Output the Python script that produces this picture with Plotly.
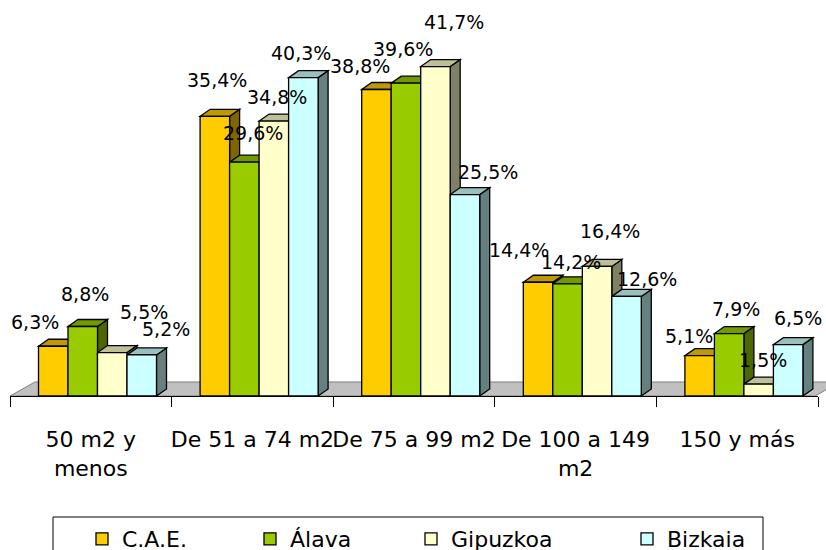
import plotly.graph_objects as go

# ---------------- data ----------------
categories = ["50 m2 y<br>menos", "De 51 a 74 m2", "De 75 a 99 m2", "De 100 a 149<br>m2", "150 y más"]
series_names = ["C.A.E.", "Álava", "Gipuzkoa", "Bizkaia"]
cae = [6.3, 35.4, 38.8, 14.4, 5.1]
alava = [8.8, 29.6, 39.6, 14.2, 7.9]
gipuzkoa = [5.5, 34.8, 41.7, 16.4, 1.5]
bizkaia = [5.2, 40.3, 25.5, 12.6, 6.5]
series_values = [cae, alava, gipuzkoa, bizkaia]

# ---------------- styles ----------------
front_colors = ["#FFCC00", "#99CC00", "#FFFFCC", "#CCFFFF"]
top_colors = ["#BF9900", "#739900", "#BFBF99", "#99BFBF"]
side_colors = ["#806600", "#4D6600", "#808066", "#668080"]

# label nudges in pixels (x right, y up) relative to front-top centre of each bar
label_dx = [[-18.5, 2, -16.5, -19.5, -10.5],
            [2.5, 8.5, -2.5, 3, 6.5],
            [32, 3.5, 19, 12.5, 4],
            [24.5, -2, 23, 20.5, 9.5]]
label_dy = [[24, 36, 23.5, 32, 20],
            [32.5, 29, 34, 22, 25],
            [40.5, 24, 44.6, 35, 24],
            [26, 25, 22.5, 17.5, 27]]
legend_widths = [123, 116, 171, None]

W, H = 826, 550
ML, MR, MT, MB = 10, 8, 0, 154
plot_w = W - ML - MR
plot_h = H - MT - MB
PX_PER_PCT = 7.9
y_max = plot_h / PX_PER_PCT
px_per_cat = plot_w / len(categories)
bar_w = 29.5 / px_per_cat
group_shift = 6.7 / px_per_cat
depth_x = 10 / px_per_cat
depth_y = 7 / PX_PER_PCT

FONT = "DejaVu Sans"

fig = go.Figure()
offsets = [group_shift - 2 * bar_w + i * bar_w for i in range(4)]

for i, (name, vals) in enumerate(zip(series_names, series_values)):
    fig.add_trace(go.Bar(
        x=categories, y=vals, name=name,
        width=bar_w, offset=offsets[i],
        marker=dict(color=front_colors[i], line=dict(color="black", width=1.3)),
        legendwidth=legend_widths[i],
        hoverinfo="skip",
    ))

shapes = []
def px2paper_x(px):
    return (px - ML) / plot_w

def px2paper_y(py):
    return 1 - (py - MT) / plot_h

floor_pts = [(10, 396), (815, 396), (840, 382), (35, 382)]
floor_path = "M " + " L ".join(f"{px2paper_x(a):.4f},{px2paper_y(b):.4f}" for a, b in floor_pts) + " Z"
shapes.append(dict(type="path", xref="paper", yref="paper", path=floor_path,
                   fillcolor="#C0C0C0", line=dict(color="#808080", width=1), layer="below"))

for c in range(len(categories)):
    for i, vals in enumerate(series_values):
        v = vals[c]
        xl = c + offsets[i]
        xr = xl + bar_w
        side = (f"M {xr},0 L {xr},{v} L {xr + depth_x},{v + depth_y} "
                f"L {xr + depth_x},{depth_y} Z")
        top = (f"M {xl},{v} L {xr},{v} L {xr + depth_x},{v + depth_y} "
               f"L {xl + depth_x},{v + depth_y} Z")
        shapes.append(dict(type="path", xref="x", yref="y", path=side,
                           fillcolor=side_colors[i], line=dict(color="black", width=1.3),
                           layer="below"))
        shapes.append(dict(type="path", xref="x", yref="y", path=top,
                           fillcolor=top_colors[i], line=dict(color="black", width=1.3),
                           layer="below"))

# legend frame
shapes.append(dict(type="rect", xref="paper", yref="paper",
                   x0=px2paper_x(53), x1=px2paper_x(763),
                   y0=px2paper_y(517), y1=px2paper_y(600),
                   line=dict(color="black", width=1), fillcolor="rgba(0,0,0,0)"))

annotations = []
for i, vals in enumerate(series_values):
    for c, v in enumerate(vals):
        annotations.append(dict(
            x=c + offsets[i] + bar_w / 2, y=v, xref="x", yref="y",
            text=f"{v:.1f}%".replace(".", ","), showarrow=False,
            xanchor="center", yanchor="middle",
            xshift=label_dx[i][c], yshift=label_dy[i][c],
            font=dict(family=FONT, size=19, color="black"),
        ))

fig.update_layout(
    width=W, height=H,
    margin=dict(l=ML, r=MR, t=MT, b=MB, autoexpand=False),
    paper_bgcolor="white", plot_bgcolor="rgba(0,0,0,0)",
    barmode="overlay",
    shapes=shapes, annotations=annotations,
    showlegend=True,
    legend=dict(orientation="h", x=px2paper_x(82), xanchor="left",
                y=px2paper_y(518), yanchor="top",
                font=dict(family=FONT, size=22, color="black"),
                bgcolor="rgba(0,0,0,0)", borderwidth=0, traceorder="normal"),
    xaxis=dict(type="category", range=[-0.5, len(categories) - 0.5],
               showline=True, linecolor="black", linewidth=1,
               ticks="outside", ticklen=10, tickcolor="black", tickwidth=1,
               tickson="boundaries", showgrid=False, zeroline=False,
               tickangle=0, ticklabelstandoff=24,
               tickfont=dict(family=FONT, size=22, color="black"),
               automargin=False, fixedrange=True),
    yaxis=dict(range=[0, y_max], visible=False, showgrid=False, zeroline=False,
               automargin=False, fixedrange=True),
)

fig.write_html("out.html", config={"displayModeBar": False},
               post_script="document.body.style.margin='0';document.body.style.overflow='hidden';")
